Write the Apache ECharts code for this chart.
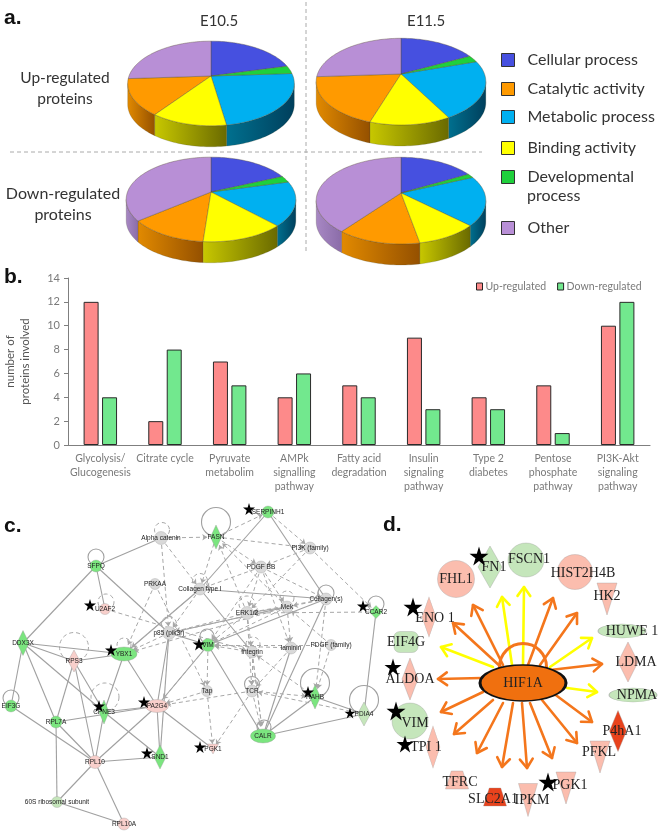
<!DOCTYPE html>
<html>
<head>
<meta charset="utf-8">
<style>html,body{margin:0;padding:0;background:#fff}#main{width:660px;height:833px}</style>
<script src="https://cdn.jsdelivr.net/npm/echarts@6/dist/echarts.min.js"></script>
</head>
<body>
<div id="main"></div>
<script>
// panel a values, percent per category
var pieCategories = ['Cellular process', 'Catalytic activity', 'Metabolic process', 'Binding activity', 'Developmental process', 'Other'];
var upE105 = [21, 14, 23.5, 12.5, 3, 26];
var upE115 = [17.5, 19, 22, 13, 2.5, 26];
var downE105 = [18.5, 13, 17, 13.5, 2.5, 36];
var downE115 = [17, 13.5, 18.5, 10, 1.5, 39.5];
// slices go round in this order from 12 o'clock
var sliceOrder = [0, 4, 2, 3, 1, 5];

// panel b values
var barCategories = ['Glycolysis/\nGlucogenesis', 'Citrate cycle', 'Pyruvate\nmetabolim', 'AMPk\nsignalling\npathway', 'Fatty acid\ndegradation', 'Insulin\nsignaling\npathway', 'Type 2\ndiabetes', 'Pentose\nphosphate\npathway', 'PI3K-Akt\nsignaling\npathway'];
var upRegulated = [12, 2, 7, 4, 5, 9, 4, 5, 10];
var downRegulated = [4, 8, 5, 6, 4, 3, 3, 1, 12];

// panel c, network: name, kind
var GREEN = '#7be57f', PALE = '#c5e6bb', PINK = '#f8cfcb', GREY = '#d9d9d9', SALMON = '#fbbdae', RED = '#e8431d';
var netNodes = [
  ['Alpha catenin', GREY], ['SFPQ', GREEN], ['PRKAA', GREY], ['U2AF2', PINK], ['p85 (pik3r)', GREY], ['DDX3X', GREEN],
  ['YBX1', GREEN], ['RPS3', PINK], ['EIF3G', GREEN], ['CPNE3', GREEN], ['PA2G4', PINK], ['RPL7A', GREEN], ['RPL10', PINK],
  ['SND1', GREEN], ['60S ribosomal subunit', PALE], ['RPL10A', PINK], ['SERPINH1', GREEN], ['FASN', GREEN],
  ['PI3K (family)', GREY], ['PDGF BB', GREY], ['Collagen type I', GREY], ['Collagen(s)', GREY], ['Mek', GREY], ['ERK1/2', GREY],
  ['CCAR2', GREEN], ['VIM', GREEN], ['PDGF (family)', GREY], ['Integrin', GREY], ['laminin', GREY], ['TCR', GREY], ['Tap', GREY],
  ['RAHB', GREEN], ['PDIA4', PALE], ['CALR', GREEN], ['PGK1', PINK]
];
var netSolid = [
  ['SFPQ', 'Alpha catenin'], ['SFPQ', 'DDX3X'], ['SFPQ', 'U2AF2'], ['SFPQ', 'p85 (pik3r)'], ['DDX3X', 'YBX1'], ['DDX3X', 'RPS3'],
  ['DDX3X', 'EIF3G'], ['DDX3X', 'RPL7A'], ['DDX3X', 'CPNE3'], ['RPS3', 'YBX1'], ['RPS3', 'RPL7A'], ['RPS3', 'RPL10'], ['RPS3', 'CPNE3'],
  ['YBX1', 'CPNE3'], ['YBX1', 'PA2G4'], ['YBX1', 'Collagen type I'], ['PA2G4', 'RPL7A'], ['PA2G4', 'CPNE3'], ['PA2G4', 'RPL10'],
  ['PA2G4', 'SND1'], ['p85 (pik3r)', 'PA2G4'], ['EIF3G', 'RPL10'], ['RPL7A', 'RPL10'], ['60S ribosomal subunit', 'RPL7A'],
  ['CPNE3', 'RPL10'], ['CPNE3', 'SND1'], ['RPL10', 'SND1'], ['60S ribosomal subunit', 'RPL10'], ['RPL10', 'RPL10A'],
  ['60S ribosomal subunit', 'RPL10A'], ['PA2G4', 'PGK1'], ['PA2G4', 'VIM'], ['p85 (pik3r)', 'SND1'], ['SERPINH1', 'Collagen type I'],
  ['SERPINH1', 'Collagen(s)'], ['Collagen type I', 'Collagen(s)'], ['VIM', 'Collagen(s)'], ['VIM', 'CALR'], ['Collagen type I', 'Integrin'],
  ['CALR', 'RAHB'], ['CALR', 'PDIA4'], ['CALR', 'Collagen(s)'], ['CALR', 'laminin'], ['CCAR2', 'PDIA4'], ['RAHB', 'PDIA4'], ['ERK1/2', 'Mek'],
  ['p85 (pik3r)', 'Mek'], ['p85 (pik3r)', 'VIM']
];
var netDashed = [
  ['U2AF2', 'Integrin'], ['PRKAA', 'YBX1'], ['PRKAA', 'Tap'], ['Collagen type I', 'YBX1'], ['Alpha catenin', 'Collagen type I'], ['Alpha catenin', 'p85 (pik3r)'],
  ['FASN', 'SERPINH1'], ['FASN', 'PI3K (family)'], ['FASN', 'PDGF BB'], ['FASN', 'Collagen type I'], ['Alpha catenin', 'FASN'], ['ERK1/2', 'FASN'], ['Mek', 'FASN'],
  ['SERPINH1', 'PI3K (family)'], ['PI3K (family)', 'CCAR2'], ['PI3K (family)', 'PDGF BB'], ['PI3K (family)', 'ERK1/2'], ['PDGF BB', 'Collagen type I'],
  ['PDGF BB', 'ERK1/2'], ['PDGF BB', 'Mek'], ['PDGF BB', 'Collagen(s)'], ['PDGF BB', 'VIM'], ['PDGF BB', 'laminin'], ['Collagen(s)', 'ERK1/2'], ['Collagen(s)', 'Mek'],
  ['Collagen(s)', 'RAHB'], ['CCAR2', 'ERK1/2'], ['ERK1/2', 'p85 (pik3r)'], ['ERK1/2', 'VIM'], ['ERK1/2', 'Integrin'], ['ERK1/2', 'TCR'], ['Mek', 'p85 (pik3r)'],
  ['Mek', 'VIM'], ['Mek', 'laminin'], ['Mek', 'YBX1'], ['laminin', 'VIM'], ['laminin', 'TCR'], ['PDGF (family)', 'VIM'], ['PDGF (family)', 'RAHB'], ['PDGF (family)', 'Mek'],
  ['Integrin', 'VIM'], ['Integrin', 'TCR'], ['Integrin', 'CALR'], ['VIM', 'Tap'], ['Tap', 'PGK1'], ['TCR', 'PGK1'], ['TCR', 'CALR'], ['TCR', 'RAHB'], ['TCR', 'PA2G4'],
  ['Tap', 'PA2G4'], ['VIM', 'PA2G4'], ['RAHB', 'Integrin'], ['PDIA4', 'TCR'], ['Collagen type I', 'p85 (pik3r)'], ['p85 (pik3r)', 'YBX1'], ['Integrin', 'CALR']
];

// panel d, HIF1A targets
var hifNodes = [
  ['FHL1', SALMON], ['FN1', PALE], ['FSCN1', PALE], ['HIST2H4B', SALMON], ['HK2', SALMON], ['HUWE 1', PALE], ['LDMA', SALMON], ['NPMA', PALE],
  ['P4hA1', RED], ['PFKL', SALMON], ['PGK1', SALMON], ['IPKM', SALMON], ['SLC2A1', RED], ['TFRC', SALMON], ['TPI 1', SALMON], ['VIM', PALE],
  ['ALDOA', SALMON], ['EIF4G', PALE], ['ENO 1', SALMON]
];

// layout of the two networks in page pixels
var TRI = 'triangle', DIA = 'diamond', CIR = 'circle', TRAP = 'path://M25 0H75L100 100H0Z', ROUND = 'roundRect';
var netLayout = {
  'Alpha catenin': [161, 538, CIR, 13, 13], 'SFPQ': [96, 566, CIR, 12, 12], 'PRKAA': [155, 584, CIR, 11, 11], 'U2AF2': [105, 609, CIR, 11, 11],
  'p85 (pik3r)': [169, 633, CIR, 13, 13], 'DDX3X': [23, 643, DIA, 12, 25], 'YBX1': [124, 654, CIR, 26, 14], 'RPS3': [74, 661, DIA, 12, 22],
  'EIF3G': [11, 706, CIR, 12, 12], 'CPNE3': [104, 712, DIA, 10, 24], 'PA2G4': [157, 706, CIR, 23, 13], 'RPL7A': [56, 722, CIR, 12, 12],
  'RPL10': [95, 762, CIR, 13, 13], 'SND1': [160, 757, DIA, 12, 24], '60S ribosomal subunit': [57, 802, CIR, 11, 11], 'RPL10A': [124, 824, CIR, 12, 12],
  'SERPINH1': [268, 512, CIR, 12, 12], 'FASN': [216, 537, DIA, 11, 24], 'PI3K (family)': [310, 548, CIR, 12, 12], 'PDGF BB': [261, 567, CIR, 12, 12],
  'Collagen type I': [200, 589, CIR, 12, 12], 'Collagen(s)': [326, 599, CIR, 12, 12], 'Mek': [287, 607, CIR, 12, 12], 'ERK1/2': [247, 613, CIR, 13, 13],
  'CCAR2': [376, 612, DIA, 13, 13], 'VIM': [208, 645, CIR, 13, 13], 'PDGF (family)': [331, 645, CIR, 11, 11], 'Integrin': [252, 652, CIR, 12, 12],
  'laminin': [291, 648, CIR, 12, 12], 'TCR': [252, 691, CIR, 12, 12], 'Tap': [207, 691, CIR, 11, 11], 'RAHB': [315, 697, DIA, 11, 24],
  'PDIA4': [364, 714, DIA, 13, 24], 'CALR': [263, 736, CIR, 25, 14], 'PGK1': [213, 749, TRI, 11, 10]
};
var hifLayout = {
  'FHL1': [456, 579, CIR, 37, 37], 'FN1': [490, 567, DIA, 24, 42], 'FSCN1': [526, 560, CIR, 36, 34], 'HIST2H4B': [575, 572, CIR, 35, 35],
  'HK2': [607, 599, TRI, 20, 32], 'HUWE 1': [622, 631, CIR, 48, 14], 'LDMA': [628, 662, DIA, 20, 40], 'NPMA': [633, 695, CIR, 48, 14],
  'P4hA1': [618, 731, DIA, 17, 41], 'PFKL': [600, 757, TRI, 20, 32], 'PGK1': [566, 788, TRI, 20, 32], 'IPKM': [528, 800, TRI, 19, 33],
  'SLC2A1': [495, 797, TRAP, 23, 18], 'TFRC': [457, 780, TRAP, 23, 18], 'TPI 1': [433, 747, DIA, 14, 42], 'VIM': [410, 721, CIR, 36, 36],
  'ALDOA': [410, 679, DIA, 16, 42], 'EIF4G': [406, 642, ROUND, 24, 21], 'ENO 1': [429, 617, DIA, 14, 40]
};
var hifLabelShift = {'FN1': [4, 0], 'HIST2H4B': [8, 1], 'HUWE 1': [10, 0], 'NPMA': [4, 0], 'P4hA1': [4, 0], 'PFKL': [-1, -5], 'PGK1': [4, -3], 'IPKM': [4, 0], 'SLC2A1': [-2, 2], 'TFRC': [3, 2], 'TPI 1': [-7, 0], 'VIM': [5, 2], 'ENO 1': [6, 1], 'HK2': [0, -3], 'LDMA': [8, 0], 'FSCN1': [3, -1]};

var stars = [
  [90, 605, 12], [111, 650, 12], [99, 706, 12], [144, 702, 12], [147, 753, 12], [249, 509, 12], [199, 644, 13], [363, 606, 12], [308, 692, 12], [350, 713, 11], [200, 747, 12],
  [479, 556, 19], [413, 607, 19], [393, 667, 17], [396, 711, 19], [405, 744, 17], [548, 782, 19]
];
var loopsSolid = [[96, 557, 16], [11, 698, 16], [216, 522, 29], [326, 593, 16], [376, 604, 16], [252, 684, 15], [315, 683, 29], [364, 700, 29], [264, 727, 14], [207, 636, 14]];
var loopsDashed = [[162, 530, 15], [106, 602, 16], [169, 624, 15], [124, 645, 14], [74, 647, 29], [105, 697, 28], [200, 581, 15], [287, 598, 14], [247, 604, 16], [253, 644, 14]];

// x1, y1, x2, y2, colour
var ORANGE = '#f4761c', YELLOW = '#ffff00';
var spokes = [
  [503, 665, 473, 605, ORANGE], [502, 668, 453, 623, ORANGE], [493, 667, 441, 647, YELLOW], [482, 678, 438, 679, ORANGE],
  [483, 692, 441, 712, ORANGE], [493, 700, 454, 734, ORANGE], [503, 703, 477, 753, ORANGE], [513, 703, 502, 767, ORANGE],
  [522, 703, 527, 768, ORANGE], [530, 703, 552, 758, ORANGE], [542, 700, 577, 743, ORANGE], [553, 693, 592, 722, ORANGE],
  [567, 688, 597, 692, YELLOW], [550, 670, 602, 664, ORANGE], [550, 667, 592, 638, YELLOW], [540, 665, 577, 613, ORANGE],
  [528, 665, 553, 598, ORANGE], [523, 665, 524, 587, YELLOW], [512, 665, 502, 597, YELLOW]
];

var myChart = echarts.init(document.getElementById('main'));

// pies are drawn tilted, k is the perspective of the disc
var k = 0.176;
var pies = [
  {vals: upE105, cx: 211, cy: 76, R: 82, H: 41, depth: 21},
  {vals: upE115, cx: 401, cy: 74, R: 83.5, H: 42, depth: 21},
  {vals: downE105, cx: 211, cy: 192, R: 83.5, H: 41, depth: 21},
  {vals: downE115, cx: 401, cy: 193, R: 83.5, H: 42, depth: 21}
];
var topColors = ['#4650e0', '#ff9a00', '#00b0f0', '#ffff00', '#1fd03c', '#b88fd6'];
var sideColors = [['#3a42b8', '#2a3088'], ['#e28a00', '#945000'], ['#00708f', '#003f5c'], ['#c8c800', '#6a6a00'], ['#18a030', '#107020'], ['#a888c4', '#8a6ca8']];

function discPoint(p, a, dy) {
  var w = 1 + k * Math.cos(a);
  return [p.cx + p.R * Math.sin(a) / w, p.cy - p.H * Math.cos(a) / w + (dy || 0)];
}
function arcPoints(p, a0, a1, dy) {
  var n = Math.max(2, Math.ceil((a1 - a0) / 0.03)), pts = [];
  for (var i = 0; i <= n; i++) pts.push(discPoint(p, a0 + (a1 - a0) * i / n, dy));
  return pts;
}
function sliceRender(cat) {
  return function (params, api) {
    var p = pies[api.value(0)];
    var total = p.vals.reduce(function (s, v) { return s + v; }, 0);
    var before = 0;
    for (var i = 0; i < sliceOrder.length && sliceOrder[i] !== cat; i++) before += p.vals[sliceOrder[i]];
    var a0 = before / total * 2 * Math.PI, a1 = (before + p.vals[cat]) / total * 2 * Math.PI;
    var children = [];
    // side wall, only the front part of the rim shows
    var vis = Math.acos(-k);
    var w0 = Math.max(a0, vis), w1 = Math.min(a1, 2 * Math.PI - vis);
    if (w1 > w0) {
      var wall = arcPoints(p, w0, w1, 0).concat(arcPoints(p, w0, w1, p.depth).reverse());
      children.push({
        type: 'polygon', shape: {points: wall},
        style: {
          fill: new echarts.graphic.LinearGradient(0, 0, 1, 0, [{offset: 0, color: sideColors[cat][0]}, {offset: 1, color: sideColors[cat][1]}]),
          stroke: 'rgba(70,70,50,0.35)', lineWidth: 0.6
        }
      });
    }
    children.push({
      type: 'polygon', shape: {points: [[p.cx, p.cy]].concat(arcPoints(p, a0, a1, 0))},
      style: {fill: topColors[cat], stroke: 'rgba(90,80,50,0.55)', lineWidth: 0.7}
    });
    return {type: 'group', children: children};
  };
}

function arrowRender(params, api) {
  var a = api.coord([api.value(0), api.value(1)]), b = api.coord([api.value(2), api.value(3)]);
  var color = spokes[params.dataIndex][4];
  var t = Math.atan2(b[1] - a[1], b[0] - a[0]), h = 11, sp = 0.62;
  var style = {stroke: color, fill: 'none', lineWidth: 2.6, lineCap: 'round', lineJoin: 'round'};
  return {type: 'group', children: [
    {type: 'line', shape: {x1: a[0], y1: a[1], x2: b[0], y2: b[1]}, style: style},
    {type: 'polyline', shape: {points: [
      [b[0] - h * Math.cos(t - sp), b[1] - h * Math.sin(t - sp)], b,
      [b[0] - h * Math.cos(t + sp), b[1] - h * Math.sin(t + sp)]
    ]}, style: style}
  ]};
}

function graphSeries(nodes, layout, links, fontSize, fontFamily, shift, z) {
  var xs = [], ys = [];
  var data = nodes.map(function (n) {
    var l = layout[n[0]], s = (shift && shift[n[0]]) || [0, 0];
    xs.push(l[0]); ys.push(l[1]);
    return {
      name: n[0], x: l[0], y: l[1], symbol: l[2], symbolSize: [l[3], l[4]], symbolRotate: l[2] === TRI ? 180 : 0,
      itemStyle: {color: n[1], borderColor: 'rgba(150,150,150,0.55)', borderWidth: 0.6},
      label: {offset: s}
    };
  });
  var minX = Math.min.apply(null, xs), maxX = Math.max.apply(null, xs), minY = Math.min.apply(null, ys), maxY = Math.max.apply(null, ys);
  return {
    type: 'graph', layout: 'none', roam: false, z: z, silent: true,
    left: minX, top: minY, width: maxX - minX, height: maxY - minY,
    data: data, links: links,
    label: {show: true, position: 'inside', fontSize: fontSize, fontFamily: fontFamily, color: '#222', overflow: 'none'},
    lineStyle: {color: '#9a9a9a', width: 1, opacity: 1, curveness: 0}
  };
}

var netLinks = netSolid.map(function (e) {
  return {source: e[0], target: e[1], lineStyle: {type: 'solid', width: 1.1, color: '#a0a0a0'}, symbol: ['none', 'none']};
}).concat(netDashed.map(function (e) {
  return {source: e[0], target: e[1], lineStyle: {type: [4, 3], width: 1, color: '#a8a8a8'}, symbol: ['none', 'arrow'], symbolSize: [0, 5]};
}));

var pieSeries = pieCategories.map(function (name, cat) {
  return {
    type: 'custom', name: name, coordinateSystem: 'none', silent: true, z: 2,
    itemStyle: {color: topColors[cat]},
    data: pies.map(function (p, i) { return [i]; }),
    renderItem: sliceRender(cat)
  };
});

var legendTops = [47, 76, 104, 135, 164, 215];
var pieLegends = pieCategories.map(function (name, i) {
  return {
    data: [{name: name, icon: 'rect'}], left: 496, top: legendTops[i], itemWidth: 13, itemHeight: 13, itemGap: 0, selectedMode: false,
    itemStyle: {borderColor: '#333', borderWidth: 1},
    formatter: function (n) { return n === 'Developmental process' ? 'Developmental' : n; },
    textStyle: {fontFamily: 'Lato', fontSize: 16, color: '#333', padding: [0, 0, 0, 8]}
  };
});
var barLegend = {
  data: [{name: 'Up-regulated', icon: 'rect'}, {name: 'Down-regulated', icon: 'rect'}], left: 471, top: 276, itemWidth: 6, itemHeight: 7, itemGap: 11, selectedMode: false,
  itemStyle: {borderColor: '#222', borderWidth: 1},
  textStyle: {fontFamily: 'Lato', fontSize: 10.5, color: '#7a7a7a', padding: [0, 0, 0, -2]}
};

var option = {
  animation: false,
  backgroundColor: '#fff',
  legend: pieLegends.concat([barLegend]),
  grid: [
    {left: 68, top: 278, width: 582, height: 167, outerBoundsMode: 'none'},
    {left: 0, top: 0, width: 660, height: 833, outerBoundsMode: 'none'}
  ],
  xAxis: [
    {
      type: 'category', data: barCategories, gridIndex: 0,
      axisLine: {lineStyle: {color: '#7f7f7f', width: 1.2}}, axisTick: {show: false},
      axisLabel: {interval: 0, margin: 7, fontFamily: 'Lato', fontSize: 10.5, color: '#7a7a7a', lineHeight: 14}
    },
    {type: 'value', gridIndex: 1, min: 0, max: 660, show: false}
  ],
  yAxis: [
    {
      type: 'value', gridIndex: 0, min: 0, max: 14, interval: 2,
      name: 'number of\nproteins involved', nameLocation: 'middle', nameGap: 35, nameRotate: 90,
      nameTextStyle: {fontFamily: 'Lato', fontSize: 11.5, color: '#555', lineHeight: 15},
      axisLine: {show: true, lineStyle: {color: '#7f7f7f'}}, axisTick: {show: true, length: 4, lineStyle: {color: '#7f7f7f'}},
      splitLine: {show: false},
      axisLabel: {margin: 8, fontFamily: 'Lato', fontSize: 11, color: '#7a7a7a'}
    },
    {type: 'value', gridIndex: 1, min: 0, max: 833, inverse: true, show: false}
  ],
  series: pieSeries.concat([
    {
      type: 'bar', name: 'Up-regulated', data: upRegulated, xAxisIndex: 0, yAxisIndex: 0, barWidth: 15, barGap: '23%',
      itemStyle: {color: '#fd8a8a', borderColor: '#2a2a2a', borderWidth: 1}, silent: true
    },
    {
      type: 'bar', name: 'Down-regulated', data: downRegulated, xAxisIndex: 0, yAxisIndex: 0, barWidth: 15,
      itemStyle: {color: '#72e88e', borderColor: '#2a2a2a', borderWidth: 1}, silent: true
    },
    {
      type: 'scatter', name: 'loops', data: loopsSolid, xAxisIndex: 1, yAxisIndex: 1, z: 1, silent: true, symbol: 'circle',
      symbolSize: function (v) { return v[2]; },
      itemStyle: {color: 'rgba(0,0,0,0)', borderColor: '#a0a0a0', borderWidth: 1.1, opacity: 1}
    },
    {
      type: 'scatter', name: 'dashed loops', data: loopsDashed, xAxisIndex: 1, yAxisIndex: 1, z: 1, silent: true, symbol: 'circle',
      symbolSize: function (v) { return v[2]; },
      itemStyle: {color: 'rgba(0,0,0,0)', borderColor: '#a8a8a8', borderWidth: 1, borderType: [4, 3], opacity: 1}
    },
    {
      type: 'custom', name: 'HIF1A targets', coordinateSystem: 'cartesian2d', xAxisIndex: 1, yAxisIndex: 1, z: 3, silent: true,
      data: spokes.map(function (s) { return s.slice(0, 4); }), encode: {x: [0, 2], y: [1, 3]},
      renderItem: arrowRender
    },
    graphSeries(netNodes, netLayout, netLinks, 6.5, 'Liberation Sans', null, 4),
    graphSeries(hifNodes, hifLayout, [], 14, 'Liberation Serif', hifLabelShift, 4),
    {
      type: 'scatter', name: 'HIF1A self loop', data: [[523, 667]], xAxisIndex: 1, yAxisIndex: 1, z: 3, silent: true, symbolSize: 47,
      itemStyle: {color: 'rgba(0,0,0,0)', borderColor: ORANGE, borderWidth: 3, opacity: 1}
    },
    {
      type: 'scatter', name: 'HIF1A', data: [[523, 683]], xAxisIndex: 1, yAxisIndex: 1, z: 5, silent: true, symbolSize: [86, 36],
      itemStyle: {color: '#f0700f', borderColor: '#111', borderWidth: 2, opacity: 1},
      label: {show: true, position: 'inside', formatter: 'HIF1A', fontFamily: 'Liberation Serif', fontSize: 14, color: '#222'}
    },
    {
      type: 'scatter', name: 'stars', data: stars, xAxisIndex: 1, yAxisIndex: 1, z: 6, silent: true,
      symbol: 'path://M50 0L61 35H98L68 57L79 92L50 70L21 92L32 57L2 35H39Z',
      symbolSize: function (v) { return v[2]; },
      itemStyle: {color: '#000', opacity: 1}
    }
  ]),
  graphic: [
    {type: 'text', left: 4, top: 8, style: {text: 'a.', font: 'bold 21px "Liberation Sans"', fill: '#111'}},
    {type: 'text', left: 4, top: 267, style: {text: 'b.', font: 'bold 21px "Liberation Sans"', fill: '#111'}},
    {type: 'text', left: 4, top: 516, style: {text: 'c.', font: 'bold 21px "Liberation Sans"', fill: '#111'}},
    {type: 'text', left: 383, top: 515, style: {text: 'd.', font: 'bold 21px "Liberation Sans"', fill: '#111'}},
    {type: 'text', left: 200, top: 14, style: {text: 'E10.5', font: '15px Lato', fill: '#333'}},
    {type: 'text', left: 407, top: 14, style: {text: 'E11.5', font: '15px Lato', fill: '#333'}},
    {type: 'text', x: 65, y: 67, style: {text: 'Up-regulated\nproteins', font: '15.5px Lato', fill: '#333', align: 'center', verticalAlign: 'top', lineHeight: 21}},
    {type: 'text', x: 63, y: 183, style: {text: 'Down-regulated\nproteins', font: '16px Lato', fill: '#333', align: 'center', verticalAlign: 'top', lineHeight: 21}},
    {type: 'text', left: 527, top: 188, style: {text: 'process', font: '16px Lato', fill: '#333'}},
    {type: 'line', shape: {x1: 10, y1: 152, x2: 482, y2: 152}, style: {stroke: '#aaa', lineWidth: 1, lineDash: [4, 3]}},
    {type: 'line', shape: {x1: 306, y1: 2, x2: 306, y2: 251}, style: {stroke: '#aaa', lineWidth: 1, lineDash: [4, 3]}}
  ]
};

myChart.setOption(option);
</script>
</body>
</html>
